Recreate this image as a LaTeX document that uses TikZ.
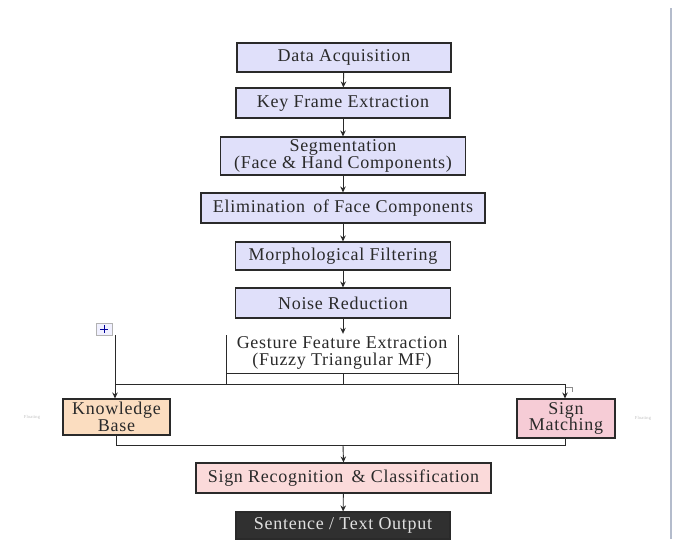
\documentclass[tikz,border=0pt]{standalone}
\usepackage{fontspec}
\setmainfont{Liberation Serif}[LetterSpace=4]
\usetikzlibrary{arrows.meta}
\definecolor{boxblue}{HTML}{E0E0FA}
\definecolor{boxorange}{HTML}{FBDDC0}
\definecolor{boxpink}{HTML}{F6CCD6}
\definecolor{boxrose}{HTML}{FBDADA}
\definecolor{boxdark}{HTML}{303030}
\definecolor{ink}{HTML}{2A2A2A}
\definecolor{sideline}{HTML}{B4BCCC}
\tikzset{
  stepbox/.style={draw=ink, line width=1.1pt, fill=boxblue, inner sep=0pt, align=center,
    text=ink, font=\fontsize{18}{16.5}\selectfont},
  conn/.style={draw=ink, line width=0.9pt},
  arr/.style={conn, -{Stealth[length=6pt,width=5.5pt]}},
  faint/.style={text=black!25, font=\fontsize{4.5}{5}\selectfont}
}
\begin{document}
\begin{tikzpicture}[x=1pt,y=-1pt]
\useasboundingbox (0,0) rectangle (676,539);
\draw[sideline, line width=1.5pt] (671,8) -- (671,539);

\node[stepbox, minimum width=214, minimum height=29] (da) at (344,57.5) {Data Acquisition};
\node[stepbox, minimum width=214, minimum height=30] (kf) at (343,103) {Key Frame Extraction};
\node[stepbox, minimum width=245, minimum height=38] (seg) at (343,156) {Segmentation\\(Face \& Hand Components)};
\node[stepbox, minimum width=284, minimum height=30] (el) at (343,208) {Elimination\, of Face Components};
\node[stepbox, minimum width=215, minimum height=28] (mf) at (343,256) {Morphological Filtering};
\node[stepbox, minimum width=215, minimum height=30] (nr) at (343,303) {Noise Reduction};
\node[inner sep=0pt, align=center, text=ink, font=\fontsize{18}{17}\selectfont, minimum width=232, minimum height=38] (gfe) at (342,353) {Gesture Feature Extraction\\(Fuzzy Triangular MF)};
\node[stepbox, fill=boxorange, minimum width=107, minimum height=36] (kb) at (116.5,417) {Knowledge\\Base};
\node[stepbox, fill=boxpink, minimum width=98, minimum height=39] (sm) at (566,418.5) {Sign\\Matching};
\node[stepbox, fill=boxrose, minimum width=295, minimum height=30] (sr) at (343.5,478) {Sign Recognition \,\& Classification};
\node[stepbox, fill=boxdark, text=white!88!black, minimum width=214, minimum height=27] (out) at (343,525.5) {Sentence / Text Output};

% move handle icon
\node[draw=black!30, fill=blue!6, minimum width=16, minimum height=12, inner sep=0pt] (plus) at (104,329) {};
\draw[blue!60!black, line width=0.6pt] (plus.center) ++(-4,0) -- ++(8,0) (plus.center) ++(0,-4) -- ++(0,8);

% faint labels
\node[faint] (fl1) at (32,417) {Floating};
\node[faint] (fl2) at (643,418) {Floating};

% small hook icon
\coordinate (hk) at (566,387);
\draw[black!45, line width=0.6pt] (hk) -- ++(6,0) -- ++(0,5);

% main spine
\draw[arr] (da) -- (kf);
\draw[arr] (kf) -- (seg);
\draw[arr] (seg) -- (el);
\draw[arr] (el) -- (mf);
\draw[arr] (mf) -- (nr);
\draw[arr] (nr.south) -- (nr.south |- gfe.north);

% gesture bracket
\coordinate (gl) at (226,335);
\coordinate (gr) at (458,335);
\coordinate (bus) at (343,384);
\coordinate (brk) at (343,373);
\draw[conn] (gl) -- (gl |- bus);
\draw[conn] (gr) -- (gr |- bus);
\draw[conn] (gl |- brk) -- (gr |- brk);
\draw[conn] (brk) -- (bus);

% bus
\coordinate (busl) at (115,384);
\coordinate (busr) at (565,384);
\draw[conn] (busl) -- (busr);
\draw[arr] (plus.south -| busl) -- (busl |- kb.north);
\draw[arr] (busr) -- (busr |- sm.north);

% merge
\coordinate (mrg) at (343,445);
\draw[conn] (kb.south) -- (kb.south |- mrg) -- (mrg);
\draw[conn] (sm.south -| busr) -- (busr |- mrg) -- (mrg);
\draw[arr] (mrg) -- (sr.north);
\draw[arr] (sr) -- (out);
\end{tikzpicture}
\end{document}
